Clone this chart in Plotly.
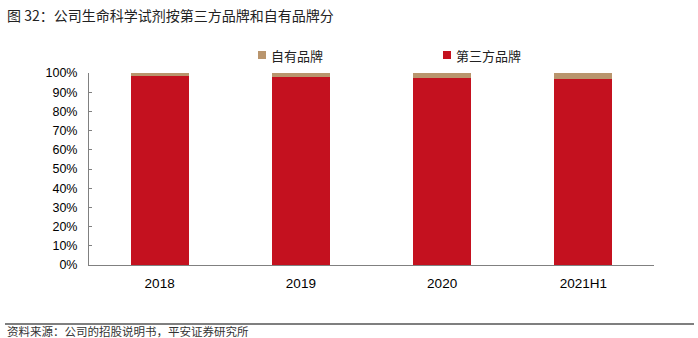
import plotly.graph_objects as go

# Share of life-science reagent revenue by brand type
periods = ["2018", "2019", "2020", "2021H1"]
third_party = [98.5, 98.0, 97.6, 96.7]   # 第三方品牌 (%)
own_brand = [1.5, 2.0, 2.4, 3.3]         # 自有品牌 (%)
y_ticks = [0, 10, 20, 30, 40, 50, 60, 70, 80, 90, 100]
y_tick_text = [f"{v}%" for v in y_ticks]

RED = "#C4111F"
BROWN = "#B9956D"
CJK = "Noto Sans CJK SC"
LAT = "Liberation Sans, Arial, sans-serif"

W, H = 698, 338
L, R, T, B = 89, 44, 73, 73
pw, ph = W - L - R, H - T - B


def px_x(x):
    return (x - L) / pw


def px_y(y):
    return (H - B - y) / ph


fig = go.Figure()
fig.add_trace(go.Bar(x=periods, y=third_party, name="第三方品牌",
                     marker=dict(color=RED, line=dict(width=0)), width=0.41))
fig.add_trace(go.Bar(x=periods, y=own_brand, name="自有品牌",
                     marker=dict(color=BROWN, line=dict(width=0)), width=0.41))

fig.update_layout(
    width=W, height=H,
    margin=dict(l=L, r=R, t=T, b=B, autoexpand=False),
    barmode="stack",
    plot_bgcolor="white", paper_bgcolor="white",
    font=dict(family=LAT, size=12, color="#000000"),
    showlegend=False,
    xaxis=dict(type="category", showline=True, linecolor="#808080", linewidth=1,
               ticks="", showgrid=False, tickfont=dict(family=LAT, size=13.5),
               ticklabelstandoff=6, range=[-0.5, 3.5]),
    yaxis=dict(range=[0, 100], tickmode="array", tickvals=y_ticks,
               ticktext=y_tick_text,
               showline=True, linecolor="#808080", linewidth=1,
               ticks="inside", ticklen=3, tickcolor="#808080",
               showgrid=False, zeroline=False, ticklabelstandoff=8,
               tickfont=dict(family=LAT, size=12.5)),
)

# Legend: small square swatch followed by the series name
legend_items = [("自有品牌", BROWN, 258), ("第三方品牌", RED, 443)]
for name, color, x0 in legend_items:
    fig.add_shape(type="rect", xref="paper", yref="paper",
                  x0=px_x(x0), x1=px_x(x0 + 8), y0=px_y(59), y1=px_y(51),
                  fillcolor=color, line=dict(width=0))
    fig.add_annotation(text=name, xref="paper", yref="paper",
                       x=px_x(x0 + 11), y=px_y(55), xanchor="left",
                       yanchor="middle", showarrow=False,
                       font=dict(family=CJK, size=13, color="#222222"))

# Title and source note
fig.add_annotation(text="图 32：公司生命科学试剂按第三方品牌和自有品牌分",
                   xref="paper", yref="paper", x=px_x(5), y=px_y(15),
                   xanchor="left", yanchor="middle", showarrow=False,
                   font=dict(family=CJK, size=14, color="#222222"))
fig.add_shape(type="line", xref="paper", yref="paper",
              x0=px_x(5), x1=px_x(694), y0=px_y(324), y1=px_y(324),
              line=dict(color="#555555", width=1.5))
fig.add_annotation(text="资料来源：公司的招股说明书，平安证券研究所",
                   xref="paper", yref="paper", x=px_x(5), y=px_y(331),
                   xanchor="left", yanchor="middle", showarrow=False,
                   font=dict(family=CJK, size=11.5, color="#333333"))

fig.write_html("out.html")
